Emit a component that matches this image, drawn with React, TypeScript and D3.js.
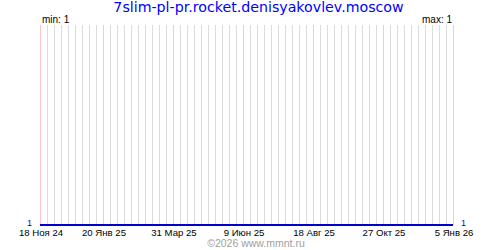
import React from "react";
import * as d3 from "d3";

const title = "7slim-pl-pr.rocket.denisyakovlev.moscow";
const seriesDates = ["2024-11-18", "2026-01-05"];
const seriesValues = [1, 1];
const tickDates = ["2024-11-18", "2025-01-20", "2025-03-31", "2025-06-09", "2025-08-18", "2025-10-27", "2026-01-05"];
const tickLabels = ["18 Ноя 24", "20 Янв 25", "31 Мар 25", "9 Июн 25", "18 Авг 25", "27 Окт 25", "5 Янв 26"];
const minLabel = "min: 1";
const maxLabel = "max: 1";
const valueLabel = "1";
const copyright = "©2026 www.mmnt.ru";

const W = 500, H = 250;
const left = 40, right = 453, top = 25, bottom = 225;
const titleFont = "'DejaVu Sans', Verdana, sans-serif";
const font = "'Liberation Sans', Arial, sans-serif";

export default function App() {
  const parse = d3.utcParse("%Y-%m-%d");
  const start = parse(seriesDates[0])!;
  const end = parse(seriesDates[seriesDates.length - 1])!;
  const x = d3.scaleUtc().domain([start, end]).range([left, right]);
  const y = d3.scaleLinear().domain([1, 2]).range([bottom, top]);
  const weeks = d3.utcDay.range(start, d3.utcDay.offset(end, 1), 7);
  const majors = new Set(tickDates.map((d) => +parse(d)!));
  const line = d3
    .line<number>()
    .x((_, i) => x(parse(seriesDates[i])!))
    .y((v) => y(v));

  return (
    <svg width={W} height={H} style={{ position: "absolute", left: 0, top: 0, background: "#fff" }}>
      <rect width={W} height={H} fill="#fff" />
      {weeks.filter((d) => !majors.has(+d)).map((d, i) => (
        <line key={"g" + i} x1={Math.round(x(d)) + 0.5} x2={Math.round(x(d)) + 0.5} y1={top} y2={bottom} stroke="#dcdcdc" strokeWidth={1} />
      ))}
      {tickDates.map((d, i) => (
        <line key={"r" + i} x1={Math.round(x(parse(d)!)) + 0.5} x2={Math.round(x(parse(d)!)) + 0.5} y1={top} y2={bottom} stroke="#ffc4c4" strokeWidth={1} />
      ))}
      <path d={line(seriesValues) || ""} fill="none" stroke="#0000cc" strokeWidth={2} />
      <text x={258.5} y={12} textAnchor="middle" fontFamily={titleFont} fontSize={14.2} fill="#0000ff">{title}</text>
      <text x={42} y={23} fontFamily={font} fontSize={10} fill="#000">{minLabel}</text>
      <text x={452} y={23} textAnchor="end" fontFamily={font} fontSize={10} fill="#000">{maxLabel}</text>
      <text x={29.5} y={225.5} textAnchor="middle" fontFamily={font} fontSize={9} fill="#0000ff">{valueLabel}</text>
      <text x={463.5} y={225.5} textAnchor="middle" fontFamily={font} fontSize={9} fill="#0000ff">{valueLabel}</text>
      {tickDates.map((d, i) => (
        <text key={"t" + i} x={x(parse(d)!) + 1} y={236} textAnchor="middle" fontFamily={font} fontSize={9.6} fill="#000">{tickLabels[i]}</text>
      ))}
      <text x={256} y={247} textAnchor="middle" fontFamily={font} fontSize={10.5} fill="#a0a0a0">{copyright}</text>
    </svg>
  );
}
